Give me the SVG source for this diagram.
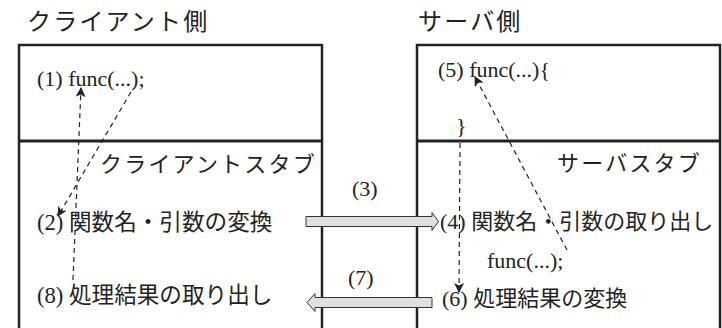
<svg xmlns="http://www.w3.org/2000/svg" width="722" height="328" viewBox="0 0 722 328">
  <style>
    .box { fill: none; stroke: #222; stroke-width: 2.5; }
    .div { stroke: #222; stroke-width: 3; }
    .t { font-family: "Liberation Serif", "Noto Sans CJK JP", serif; font-size: 22px; fill: #222; }
    .l { font-size: 22.6px; }
    .h { font-family: "Noto Sans CJK JP", sans-serif; font-size: 24px; fill: #222; letter-spacing: 2.2px; }
    .stub { font-family: "Noto Sans CJK JP", sans-serif; font-size: 22px; fill: #222; letter-spacing: 2.2px; }
    .dash { fill: none; stroke: #222; stroke-width: 1.2; stroke-dasharray: 5 4; }
    .fat { fill: #e0e0e0; stroke: #333; stroke-width: 1; }
  </style>
  <defs>
    <marker id="ah" viewBox="0 0 10 10" refX="9" refY="5" markerWidth="10" markerHeight="10" markerUnits="userSpaceOnUse" orient="auto">
      <path d="M0,0 L10,5 L0,10 L2.5,5 Z" fill="#222"/>
    </marker>
  </defs>

  <g id="client">
    <rect class="box" x="19" y="45" width="303" height="300"/>
    <line class="div" x1="19" y1="141" x2="322" y2="141"/>
    <text class="h" x="27" y="30">クライアント側</text>
    <text class="t" x="37" y="86">(1) func(...);</text>
    <text class="stub" x="100" y="172">クライアントスタブ</text>
    <text class="t l" x="37" y="230">(2) 関数名・引数の変換</text>
    <text class="t l" x="37" y="303">(8) 処理結果の取り出し</text>
  </g>

  <g id="server">
    <rect class="box" x="417" y="45" width="303" height="300"/>
    <line class="div" x1="417" y1="141" x2="720" y2="141"/>
    <text class="h" x="418" y="30">サーバ側</text>
    <text class="t" x="438" y="77">(5) func(...){</text>
    <text class="t" x="456" y="133">}</text>
    <text class="stub" x="557" y="171">サーバスタブ</text>
    <text class="t" x="440" y="229">(4) 関数名・引数の取り出し</text>
    <text class="t" x="487" y="268">func(...);</text>
    <text class="t" x="442" y="306">(6) 処理結果の変換</text>
  </g>

  <g id="labels">
    <text class="t" x="352" y="196">(3)</text>
    <text class="t" x="348" y="285">(7)</text>
  </g>

  <g id="connectors">
    <polygon class="fat" points="306,216.5 432,216.5 432,212.5 438.5,221.5 432,230.5 432,226.5 306,226.5"/>
    <polygon class="fat" points="432,297.5 315,297.5 315,293.5 307,302.5 315,311.5 315,307.5 432,307.5"/>
    <path class="dash" d="M131,92 L58,216" marker-end="url(#ah)"/>
    <path class="dash" d="M73,280 L81,88" marker-end="url(#ah)"/>
    <path class="dash" d="M567,250 L475,77" marker-end="url(#ah)"/>
    <path class="dash" d="M460,143 L459,292" marker-end="url(#ah)"/>
  </g>
</svg>
